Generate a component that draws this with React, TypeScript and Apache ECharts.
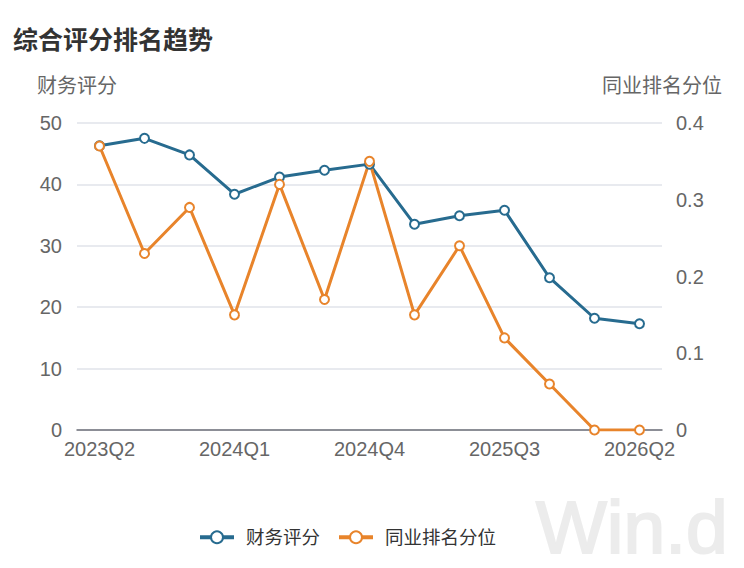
import React, { useEffect, useRef } from "react";
import * as echarts from "echarts";

const quarters = [
  "2023Q2", "2023Q3", "2023Q4", "2024Q1", "2024Q2", "2024Q3", "2024Q4",
  "2025Q1", "2025Q2", "2025Q3", "2025Q4", "2026Q1", "2026Q2",
];
const financeScore = [46.3, 47.5, 44.8, 38.4, 41.2, 42.3, 43.3, 33.5, 34.9, 35.8, 24.8, 18.2, 17.3];
const rankPercentile = [0.37, 0.23, 0.29, 0.15, 0.32, 0.17, 0.35, 0.15, 0.24, 0.12, 0.06, 0, 0];

const BLUE = "#276b8f";
const ORANGE = "#e8842b";
const FONT = "'Liberation Sans', 'Noto Sans CJK SC', sans-serif";

const App: React.FC = () => {
  const chartRef = useRef<HTMLDivElement>(null);

  useEffect(() => {
    if (!chartRef.current) return;
    const chart = echarts.init(chartRef.current, undefined, { renderer: "svg" });

    chart.setOption({
      animation: false,
      textStyle: { fontFamily: FONT },
      title: {
        text: "综合评分排名趋势",
        left: 8,
        top: 22,
        textStyle: { fontSize: 25, fontWeight: "bold", color: "#333", fontFamily: FONT },
      },
      graphic: [
        {
          type: "text",
          left: 535,
          top: 488,
          z: -1,
          style: {
            text: "Win.d",
            fontSize: 75,
            fontFamily: FONT,
            fill: "#ececec",
            stroke: "#ececec",
            lineWidth: 2,
          },
        },
      ],
      legend: {
        left: 193,
        top: 523,
        itemWidth: 34,
        itemHeight: 15,
        itemGap: 17,
        itemStyle: { borderWidth: 3 },
        lineStyle: { width: 4 },
        textStyle: { fontSize: 18.5, color: "#333", padding: [0, 0, 0, 7] },
        data: ["财务评分", "同业排名分位"],
      },
      grid: { left: 77, right: 82, top: 123, bottom: 138 },
      xAxis: {
        type: "category",
        data: quarters,
        boundaryGap: true,
        axisLine: { lineStyle: { color: "#6e7079", width: 1.5 } },
        axisTick: { interval: 2, length: 6, lineStyle: { color: "#6e7079", width: 1.5 } },
        axisLabel: { interval: 2, fontSize: 20, color: "#666", margin: 9 },
      },
      yAxis: [
        {
          type: "value",
          name: "财务评分",
          nameGap: 27,
          nameTextStyle: { fontSize: 20, color: "#666", align: "center" },
          min: 0,
          max: 50,
          interval: 10,
          axisLine: { show: false },
          axisTick: { show: false },
          axisLabel: { fontSize: 20, color: "#666", margin: 15 },
          splitLine: { lineStyle: { color: "#e0e3ea", width: 1.5 } },
        },
        {
          type: "value",
          name: "同业排名分位",
          nameGap: 27,
          nameTextStyle: { fontSize: 20, color: "#666", align: "center" },
          min: 0,
          max: 0.4,
          interval: 0.1,
          axisLine: { show: false },
          axisTick: { show: false },
          axisLabel: { fontSize: 20, color: "#666", margin: 14 },
          splitLine: { show: false },
        },
      ],
      series: [
        {
          name: "财务评分",
          type: "line",
          yAxisIndex: 0,
          data: financeScore,
          symbol: "emptyCircle",
          symbolSize: 9,
          lineStyle: { color: BLUE, width: 3 },
          itemStyle: { color: BLUE, borderColor: BLUE, borderWidth: 2.5 },
        },
        {
          name: "同业排名分位",
          type: "line",
          yAxisIndex: 1,
          data: rankPercentile,
          symbol: "emptyCircle",
          symbolSize: 9,
          lineStyle: { color: ORANGE, width: 3 },
          itemStyle: { color: ORANGE, borderColor: ORANGE, borderWidth: 2.5 },
        },
      ],
    });

    return () => {
      chart.dispose();
    };
  }, []);

  return (
    <div
      ref={chartRef}
      style={{ position: "fixed", left: 0, top: 0, width: "744px", height: "568px", background: "#fff" }}
    />
  );
};

export default App;
